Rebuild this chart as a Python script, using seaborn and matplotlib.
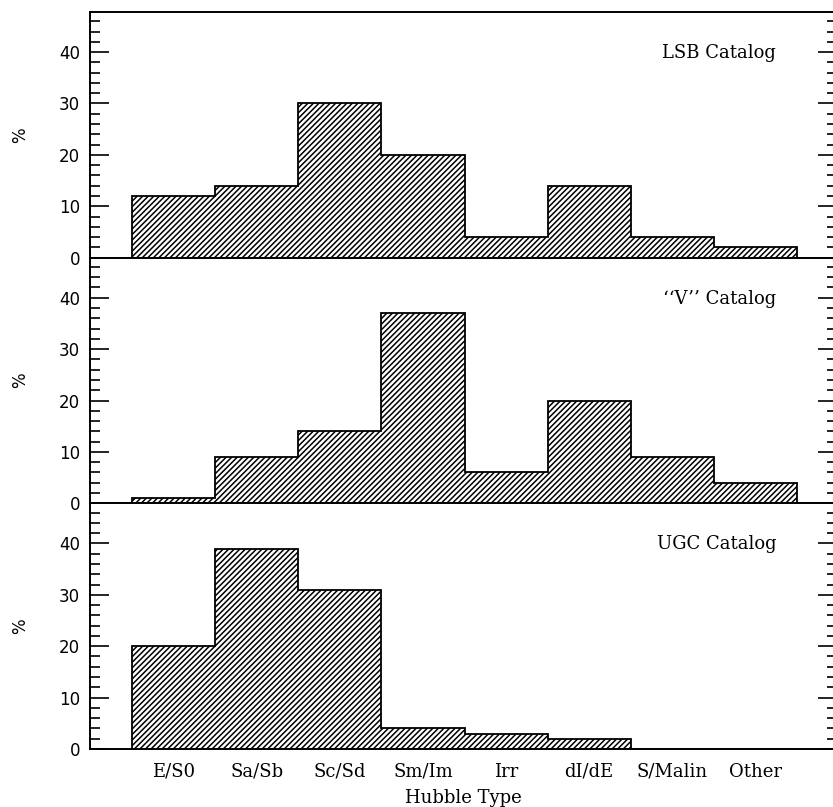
import matplotlib
matplotlib.use("Agg")
import matplotlib.pyplot as plt
import seaborn as sns
import numpy as np
import pandas as pd
from matplotlib.ticker import MultipleLocator, FixedLocator

# ---- data ----
categories = ["E/S0", "Sa/Sb", "Sc/Sd", "Sm/Im", "Irr", "dI/dE", "S/Malin", "Other"]
lsb_values = [12, 14, 30, 20, 4, 14, 4, 2]
v_values = [1, 9, 14, 37, 6, 20, 9, 4]
ugc_values = [20, 39, 31, 4, 3, 2, 0, 0]
panel_labels = ["LSB Catalog", "\u2018\u2018V\u2019\u2019 Catalog", "UGC Catalog"]
y_ticks = [0, 10, 20, 30, 40]
x_label = "Hubble Type"
y_label = "%"

sns.set_theme(style="ticks")
plt.rcParams['font.family'] = ['DejaVu Serif']
plt.rcParams['hatch.linewidth'] = 1.1
plt.rcParams['hatch.color'] = 'black'

W, H = 833, 807
fig = plt.figure(figsize=(W / 100, H / 100), dpi=100)

left_px, right_px, top_px, bot_px = 90, 837, 12, 749
panel_h = (bot_px - top_px) / 3.0

all_values = [lsb_values, v_values, ugc_values]
edges = np.arange(len(categories) + 1) - 0.5

for i, (vals, lab) in enumerate(zip(all_values, panel_labels)):
    top_i = top_px + i * panel_h
    ax = fig.add_axes([left_px / W, 1 - (top_i + panel_h) / H,
                       (right_px - left_px) / W, panel_h / H])
    df = pd.DataFrame({"type": categories, "pct": vals})
    sns.barplot(data=df, x="type", y="pct", order=categories, width=1.0,
                color="white", saturation=1, edgecolor="black", linewidth=0,
                hatch="//////", errorbar=None, ax=ax)
    ax.stairs(vals, edges, baseline=0, color="black", linewidth=1.3, fill=False)

    ax.set_xlim(-1.005, 7.98)
    ax.set_ylim(0, 47.8)
    ax.yaxis.set_major_locator(FixedLocator(y_ticks))
    ax.yaxis.set_minor_locator(MultipleLocator(2))
    ax.tick_params(axis='y', which='both', direction='in', left=True, right=True,
                   width=1.2, colors='black', pad=7)
    ax.tick_params(axis='y', which='major', length=13.5, labelsize=12)
    ax.tick_params(axis='y', which='minor', length=7)
    for t in ax.get_yticklabels():
        t.set_family('DejaVu Sans')
    ax.tick_params(axis='x', which='both', length=0, bottom=False, top=False)
    for s in ax.spines.values():
        s.set_linewidth(1.4)
        s.set_color('black')
        s.set_visible(True)

    ax.set_ylabel(y_label, fontsize=12, family='DejaVu Sans', color='black')
    ax.yaxis.set_label_coords((29 - left_px) / (right_px - left_px), 0.5)

    ax.text(7.25, 39.8, lab, ha='right', va='center', fontsize=13, color='black')

    if i < 2:
        ax.set_xlabel("")
        ax.tick_params(axis='x', labelbottom=False)
    else:
        ax.set_xlabel(x_label, fontsize=13, color='black', labelpad=6)
        ax.tick_params(axis='x', labelsize=13, pad=10, labelcolor='black')

fig.savefig("out.png", dpi=100)
